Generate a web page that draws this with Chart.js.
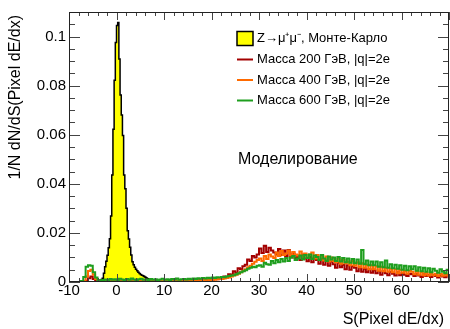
<!DOCTYPE html>
<html>
<head>
<meta charset="utf-8">
<script src="https://cdn.jsdelivr.net/npm/chart.js@4/dist/chart.umd.min.js"></script>
<style>
  body { margin: 0; background: #fff; }
  #wrap { width: 450px; height: 329px; }
</style>
</head>
<body>
<div id="wrap"><canvas id="chart" width="450" height="329"></canvas></div>
<script>
// Гистограммы: значения бинов (1/N dN/dS)
const zStart = -3.5;
const zWidth = 0.25;
const zValues = [
  0.0005, 0.0010, 0.0015, 0.0036, 0.0062, 0.0085, 0.0109, 0.0140,
  0.0176, 0.0269, 0.0436, 0.0622, 0.0822, 0.0976, 0.1045, 0.1057,
  0.0909, 0.0762, 0.0680, 0.0597, 0.0436, 0.0380, 0.0300, 0.0209,
  0.0175, 0.0142, 0.0110, 0.0082, 0.0070, 0.0060, 0.0052, 0.0046,
  0.0040, 0.0035, 0.0031, 0.0028, 0.0025, 0.0022, 0.0019, 0.0016,
  0.0013, 0.0010, 0.0007, 0.0005, 0.0003, 0.0002
];

const sigStart = -10;
const sigWidth = 0.5;
const mass200 = [
  0, 0, 0, 0, 0, 0, 0, 0.0005, 0.0015, 0.0022, 0.0012, 0.0005, 0.0003, 0.0004, 0.0002, 0.0003,
  0.0003, 0.0004, 0.0002, 0.0005, 0.0003, 0.0004, 0.0002, 0.0003, 0.0004, 0.0002, 0.0005, 0.0003, 0.0002, 0.0004, 0.0003, 0.0002,
  0.0003, 0.0004, 0.0002, 0.0003, 0.0005, 0.0003, 0.0004, 0.0002, 0.0003, 0.0005, 0.0004, 0.0003, 0.0006, 0.0004, 0.0003, 0.0005,
  0.0004, 0.0006, 0.0005, 0.0004, 0.0007, 0.0005, 0.0008, 0.0006, 0.0007, 0.0009, 0.0008, 0.0010, 0.0009, 0.0012, 0.0011, 0.0014,
  0.0014, 0.0022, 0.0020, 0.0032, 0.0030, 0.0044, 0.0038, 0.0056, 0.0052, 0.0064, 0.0070, 0.0092, 0.0086, 0.0106, 0.0100, 0.0112,
  0.0136, 0.0118, 0.0148, 0.0122, 0.0140, 0.0128, 0.0120, 0.0112, 0.0134, 0.0110, 0.0128, 0.0106, 0.0130, 0.0100, 0.0116, 0.0098,
  0.0104, 0.0090, 0.0112, 0.0096, 0.0085, 0.0102, 0.0080, 0.0098, 0.0090, 0.0074, 0.0094, 0.0070, 0.0088, 0.0066, 0.0084, 0.0072,
  0.0058, 0.0078, 0.0060, 0.0070, 0.0052, 0.0068, 0.0050, 0.0064, 0.0058, 0.0044, 0.0060, 0.0042, 0.0054, 0.0040, 0.0052, 0.0038,
  0.0048, 0.0036, 0.0046, 0.0030, 0.0044, 0.0036, 0.0028, 0.0042, 0.0034, 0.0026, 0.0040, 0.0028, 0.0036, 0.0030, 0.0024, 0.0034,
  0.0032, 0.0024, 0.0034, 0.0026, 0.0020, 0.0032, 0.0024, 0.0030, 0.0020, 0.0029, 0.0024, 0.0018, 0.0028, 0.0022, 0.0019, 0.0027
];
const mass400 = [
  0, 0, 0, 0, 0, 0, 0.0004, 0.0022, 0.0045, 0.0050, 0.0030, 0.0012, 0.0005, 0.0003, 0.0004, 0.0003,
  0.0004, 0.0003, 0.0005, 0.0002, 0.0004, 0.0003, 0.0005, 0.0004, 0.0003, 0.0005, 0.0002, 0.0004, 0.0003, 0.0005, 0.0004, 0.0003,
  0.0004, 0.0005, 0.0003, 0.0004, 0.0002, 0.0005, 0.0003, 0.0004, 0.0005, 0.0003, 0.0004, 0.0006, 0.0003, 0.0005, 0.0004, 0.0006,
  0.0005, 0.0006, 0.0004, 0.0007, 0.0006, 0.0008, 0.0007, 0.0006, 0.0008, 0.0007, 0.0009, 0.0008, 0.0010, 0.0009, 0.0011, 0.0012,
  0.0012, 0.0014, 0.0016, 0.0018, 0.0022, 0.0026, 0.0030, 0.0034, 0.0040, 0.0046, 0.0052, 0.0060, 0.0066, 0.0074, 0.0082, 0.0090,
  0.0096, 0.0086, 0.0106, 0.0094, 0.0112, 0.0104, 0.0098, 0.0120, 0.0106, 0.0126, 0.0110, 0.0116, 0.0128, 0.0108, 0.0122, 0.0112,
  0.0108, 0.0124, 0.0102, 0.0116, 0.0098, 0.0112, 0.0120, 0.0096, 0.0110, 0.0092, 0.0108, 0.0088, 0.0104, 0.0084, 0.0100, 0.0086,
  0.0080, 0.0096, 0.0074, 0.0090, 0.0076, 0.0084, 0.0068, 0.0086, 0.0066, 0.0080, 0.0060, 0.0076, 0.0058, 0.0070, 0.0052, 0.0068,
  0.0052, 0.0064, 0.0046, 0.0062, 0.0044, 0.0058, 0.0042, 0.0054, 0.0040, 0.0052, 0.0036, 0.0050, 0.0038, 0.0046, 0.0034, 0.0046,
  0.0042, 0.0032, 0.0044, 0.0030, 0.0040, 0.0028, 0.0038, 0.0026, 0.0036, 0.0027, 0.0034, 0.0024, 0.0033, 0.0025, 0.0032, 0.0026
];
const mass600 = [
  0, 0, 0, 0, 0, 0.0004, 0.0020, 0.0062, 0.0068, 0.0066, 0.0040, 0.0018, 0.0008, 0.0006, 0.0008, 0.0010,
  0.0008, 0.0012, 0.0009, 0.0011, 0.0007, 0.0013, 0.0010, 0.0008, 0.0012, 0.0009, 0.0014, 0.0010, 0.0008, 0.0011, 0.0013, 0.0009,
  0.0010, 0.0008, 0.0012, 0.0009, 0.0011, 0.0007, 0.0010, 0.0013, 0.0009, 0.0011, 0.0008, 0.0012, 0.0010, 0.0014, 0.0009, 0.0011,
  0.0012, 0.0010, 0.0013, 0.0011, 0.0014, 0.0012, 0.0015, 0.0013, 0.0016, 0.0014, 0.0017, 0.0015, 0.0018, 0.0016, 0.0019, 0.0018,
  0.0020, 0.0019, 0.0022, 0.0024, 0.0026, 0.0028, 0.0032, 0.0036, 0.0040, 0.0044, 0.0048, 0.0054, 0.0058, 0.0062, 0.0060, 0.0066,
  0.0068, 0.0062, 0.0078, 0.0072, 0.0070, 0.0086, 0.0076, 0.0090, 0.0080, 0.0094, 0.0084, 0.0098, 0.0086, 0.0100, 0.0106, 0.0090,
  0.0096, 0.0108, 0.0092, 0.0110, 0.0098, 0.0112, 0.0094, 0.0108, 0.0102, 0.0090, 0.0110, 0.0096, 0.0086, 0.0104, 0.0092, 0.0100,
  0.0086, 0.0102, 0.0084, 0.0098, 0.0080, 0.0096, 0.0078, 0.0094, 0.0076, 0.0092, 0.0074, 0.0130, 0.0072, 0.0088, 0.0068, 0.0084,
  0.0068, 0.0084, 0.0062, 0.0080, 0.0060, 0.0088, 0.0058, 0.0072, 0.0056, 0.0070, 0.0054, 0.0068, 0.0050, 0.0066, 0.0048, 0.0064,
  0.0052, 0.0064, 0.0046, 0.0060, 0.0044, 0.0058, 0.0042, 0.0056, 0.0040, 0.0054, 0.0046, 0.0038, 0.0052, 0.0042, 0.0036, 0.0050
];

const seriesLabels = [
  'Z\u2192\u03bc\u207a\u03bc\u207b, Монте-Карло',
  'Масса 200 ГэВ, |q|=2e',
  'Масса 400 ГэВ, |q|=2e',
  'Масса 600 ГэВ, |q|=2e'
];
const xTicks = [-10, 0, 10, 20, 30, 40, 50, 60];
const yTicks = [0, 0.02, 0.04, 0.06, 0.08, 0.1];
const yTickLabels = ['0', '0.02', '0.04', '0.06', '0.08', '0.1'];
const xTitle = 'S(Pixel dE/dx)';
const yTitle = '1/N dN/dS(Pixel dE/dx)';
const noteText = 'Моделирование';

const FONT = "'Liberation Sans', Arial, Helvetica, sans-serif";

// бины -> точки для ступенчатой линии (левые края бинов)
function toSteps(start, width, values) {
  const pts = [{ x: start, y: 0 }];
  values.forEach((v, i) => pts.push({ x: start + i * width, y: v }));
  pts.push({ x: start + values.length * width, y: 0 });
  return pts;
}

// рамка, внутренние риски, легенда и подписи в стиле ROOT
const rootStyle = {
  id: 'rootStyle',
  afterDatasetsDraw(chart) {
    const ctx = chart.ctx;
    const a = chart.chartArea;
    const xs = chart.scales.x;
    const ys = chart.scales.y;
    ctx.save();
    ctx.strokeStyle = '#444';
    ctx.lineWidth = 1;
    ctx.beginPath();
    for (let v = -10; v <= 70; v += 2) {
      const px = Math.round(xs.getPixelForValue(v)) + 0.5;
      const len = (v % 10 === 0) ? 8 : 4;
      ctx.moveTo(px, a.bottom); ctx.lineTo(px, a.bottom - len);
      ctx.moveTo(px, a.top); ctx.lineTo(px, a.top + len);
    }
    for (let i = 0; i <= 22; i++) {
      const py = Math.round(ys.getPixelForValue(i * 0.005)) + 0.5;
      const len = (i % 4 === 0) ? 11 : 6;
      ctx.moveTo(a.left, py); ctx.lineTo(a.left + len, py);
      ctx.moveTo(a.right, py); ctx.lineTo(a.right - len, py);
    }
    ctx.stroke();
    ctx.strokeStyle = '#222';
    ctx.strokeRect(a.left + 0.5, a.top + 0.5, a.right - a.left - 1, a.bottom - a.top - 1);
    ctx.restore();
  },
  afterDraw(chart) {
    const ctx = chart.ctx;
    const ds = chart.data.datasets;
    ctx.save();
    // легенда
    const lx = 237, ly = [38.5, 59.5, 80, 100.5];
    ctx.font = '13px ' + FONT;
    ctx.textBaseline = 'middle';
    ctx.fillStyle = '#000';
    ds.forEach((d, i) => {
      const y = ly[i];
      if (i === 0) {
        ctx.fillStyle = d.backgroundColor;
        ctx.fillRect(lx, y - 7, 16, 14);
        ctx.strokeStyle = '#000';
        ctx.lineWidth = 1.5;
        ctx.strokeRect(lx, y - 7, 16, 14);
      } else {
        ctx.strokeStyle = d.borderColor;
        ctx.lineWidth = 2;
        ctx.beginPath();
        ctx.moveTo(lx, y); ctx.lineTo(lx + 16, y);
        ctx.stroke();
      }
      ctx.fillStyle = '#000';
      ctx.fillText(d.label, lx + 20, y);
    });
    // надпись
    ctx.font = '16px ' + FONT;
    ctx.fillText(noteText, 238, 160);
    // заголовки осей
    ctx.textAlign = 'right';
    ctx.fillText(xTitle, 444, 320);
    ctx.translate(16, 15);
    ctx.rotate(-Math.PI / 2);
    ctx.fillText(yTitle, 0, 0);
    ctx.restore();
  }
};

const ctx = document.getElementById('chart');

new Chart(ctx, {
  type: 'line',
  data: {
    datasets: [
      {
        label: seriesLabels[0],
        data: toSteps(zStart, zWidth, zValues),
        borderColor: '#000',
        backgroundColor: '#ffff00',
        borderWidth: 1.5,
        fill: 'origin',
        order: 4
      },
      {
        label: seriesLabels[1],
        data: toSteps(sigStart, sigWidth, mass200),
        borderColor: '#a30000',
        borderWidth: 2,
        fill: false,
        order: 3
      },
      {
        label: seriesLabels[2],
        data: toSteps(sigStart, sigWidth, mass400),
        borderColor: '#ff6a00',
        borderWidth: 2,
        fill: false,
        order: 2
      },
      {
        label: seriesLabels[3],
        data: toSteps(sigStart, sigWidth, mass600),
        borderColor: '#1e9e1e',
        borderWidth: 2,
        fill: false,
        order: 1
      }
    ]
  },
  options: {
    responsive: false,
    animation: false,
    elements: {
      point: { radius: 0 },
      line: { stepped: 'before', tension: 0 }
    },
    layout: { padding: { top: 7, right: 1, left: 0, bottom: 0 } },
    plugins: {
      legend: { display: false },
      tooltip: { enabled: false }
    },
    scales: {
      x: {
        type: 'linear',
        min: -10,
        max: 70,
        afterFit(scale) { scale.height = 47; },
        afterBuildTicks(scale) { scale.ticks = xTicks.map(v => ({ value: v })); },
        grid: { display: false, drawTicks: false },
        border: { display: false },
        ticks: {
          color: '#000',
          padding: 0,
          maxRotation: 0,
          autoSkip: false,
          font: { family: FONT, size: 15 },
          callback: (v) => String(v)
        }
      },
      y: {
        type: 'linear',
        min: 0,
        max: 0.11,
        afterFit(scale) { scale.width = 69; },
        afterBuildTicks(scale) { scale.ticks = yTicks.map(v => ({ value: v })); },
        grid: { display: false, drawTicks: false },
        border: { display: false },
        ticks: {
          color: '#000',
          padding: 3,
          autoSkip: false,
          font: { family: FONT, size: 15 },
          callback: (v) => yTickLabels[yTicks.findIndex(t => Math.abs(t - v) < 1e-9)]
        }
      }
    }
  },
  plugins: [rootStyle]
});
</script>
</body>
</html>
